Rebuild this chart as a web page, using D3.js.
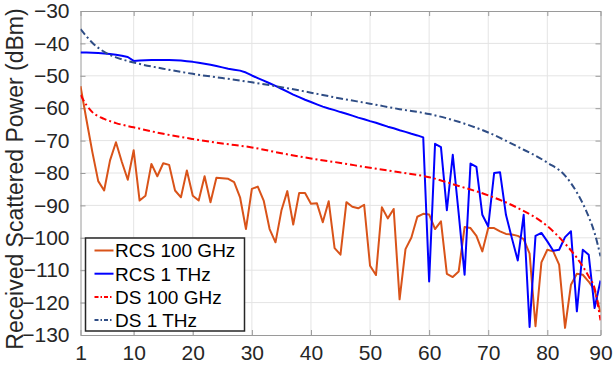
<!DOCTYPE html>
<html>
<head>
<meta charset="utf-8">
<script src="https://cdn.jsdelivr.net/npm/d3@7"></script>
<style>
  body { margin: 0; background: #fff; }
  svg { display: block; font-family: "Liberation Sans", Arial, Helvetica, sans-serif; }
</style>
</head>
<body>
<svg id="chart" width="613" height="366"></svg>
<script>
// angle index 1..89 (axis right edge labelled 90)
const angles = d3.range(1, 90);

const rcs100 = [-53.2, -63.5, -73.5, -82.5, -85.4, -76.1, -70.5, -76.6, -82.1, -73,
  -88.5, -87, -77.2, -81, -77, -77.5, -85.4, -87.5, -79.2, -87,
  -88.5, -81, -89, -81.5, -81.6, -81.8, -82.8, -87.5, -97.3, -84.9,
  -84.2, -88.5, -97.3, -101.4, -91.6, -85.6, -95.9, -86.2, -86.2, -89.5,
  -89.3, -95.2, -88.7, -103.2, -105.2, -89, -90.4, -90.9, -89.8, -108.6,
  -111.5, -90.6, -94, -91.1, -119, -103.5, -99.9, -93.5, -92.6, -92.8,
  -97.3, -94.9, -111.1, -112.1, -110.4, -96.7, -97.0, -99.4, -104.2, -97,
  -97, -98, -98.8, -99.0, -99.4, -100.4, -104.9, -127.3, -107.6, -103.7,
  -104.2, -108.3, -127.8, -114.5, -111.1, -111.4, -113.5, -116.2, -123];

const rcs1T = [-42.8, -42.8, -42.9, -43.0, -43.1, -43.3, -43.5, -43.8, -44.2, -45.4,
  -45.3, -45.2, -45.1, -45.1, -45.1, -45.1, -45.2, -45.3, -45.5, -45.7,
  -46.0, -46.3, -46.6, -47.0, -47.4, -47.8, -48.1, -48.4, -49.0, -49.9,
  -50.7, -51.5, -52.3, -53.1, -54.0, -54.9, -55.8, -56.6, -57.4, -58.1,
  -58.8, -59.5, -60.1, -60.6, -61.2, -61.7, -62.3, -62.9, -63.4, -64.0,
  -64.5, -65.1, -65.7, -66.2, -66.8, -67.3, -67.9, -68.4, -69.0, -113.5,
  -71, -72, -91.5, -74.4, -92.5, -111.4, -77.1, -78.1, -92.9, -96.5,
  -80, -79.8, -92.9, -100.1, -107, -92.9, -127.5, -99.4, -98.5, -101.1,
  -104, -103.7, -99.8, -98, -122.7, -103.7, -105.2, -121.7, -113.2];

// smooth DS curves, read at selected angles
const dsAngles = [1, 2, 3, 5, 7, 10, 15, 20, 25, 30, 35, 40, 45, 50, 55, 60, 65, 70, 75, 80, 83, 85, 87, 88, 89];
const ds100 = [-55.9, -59.0, -61.2, -63.3, -64.6, -65.9, -67.9, -69.5, -70.9, -72.1,
  -73.9, -75.5, -76.9, -78.4, -79.8, -81.3, -84.0, -86.9, -90.8, -96.4,
  -101.8, -106.2, -111.9, -115.6, -125.5];
const ds1T = [-35.6, -37.8, -39.8, -42.6, -44.3, -45.9, -47.8, -49.4, -50.7, -52.0,
  -53.5, -55.2, -57.0, -58.6, -60.3, -61.8, -64.2, -67.5, -71.9, -76.8,
  -80.8, -86.0, -93.5, -98.5, -105.7];

const xTicks = [1, 10, 20, 30, 40, 50, 60, 70, 80, 89];
const xTickLabels = ["1", "10", "20", "30", "40", "50", "60", "70", "80", "90"];
const yTicks = [-30, -40, -50, -60, -70, -80, -90, -100, -110, -120, -130];

const series = [
  { name: "RCS 100 GHz", x: angles, y: rcs100, color: "#D95319", dash: null, curve: d3.curveLinear },
  { name: "RCS 1 THz", x: angles, y: rcs1T, color: "#0000FF", dash: null, curve: d3.curveLinear },
  { name: "DS 100 GHz", x: dsAngles, y: ds100, color: "#FF0000", dash: "7,3,2,3", curve: d3.curveMonotoneX },
  { name: "DS 1 THz", x: dsAngles, y: ds1T, color: "#2F4D85", dash: "7,3,2,3", curve: d3.curveMonotoneX }
];

const W = 613, H = 366;
const m = { top: 11, right: 12.5, bottom: 31, left: 80.5 };
const w = W - m.left - m.right, h = H - m.top - m.bottom;

const svg = d3.select("#chart");
const g = svg.append("g").attr("transform", `translate(${m.left},${m.top})`);

const x = d3.scaleLinear().domain([1, 89]).range([0, w]);
const y = d3.scaleLinear().domain([-130, -30]).range([h, 0]);

// grid
g.append("g").selectAll("line").data(xTicks.slice(1, -1)).join("line")
  .attr("x1", d => x(d)).attr("x2", d => x(d)).attr("y1", 0).attr("y2", h)
  .attr("stroke", "#e4e4e4").attr("stroke-width", 1);
g.append("g").selectAll("line").data(yTicks.slice(1, -1)).join("line")
  .attr("y1", d => y(d)).attr("y2", d => y(d)).attr("x1", 0).attr("x2", w)
  .attr("stroke", "#e4e4e4").attr("stroke-width", 1);

// axes (inward ticks on all sides, MATLAB style)
const axCol = "#9a9a9a", txtCol = "#262626";
const styleAxis = sel => {
  sel.select(".domain").attr("stroke", axCol);
  sel.selectAll(".tick line").attr("stroke", axCol);
  sel.selectAll("text").attr("fill", txtCol).style("font-size", "21px");
};
g.append("g").attr("transform", `translate(0,${h})`)
  .call(d3.axisBottom(x).tickValues(xTicks).tickFormat((d, i) => xTickLabels[i]).tickSizeInner(-5).tickSizeOuter(0).tickPadding(10))
  .call(styleAxis);
g.append("g")
  .call(d3.axisTop(x).tickValues(xTicks).tickFormat("").tickSizeInner(-5).tickSizeOuter(0))
  .call(styleAxis);
g.append("g")
  .call(d3.axisLeft(y).tickValues(yTicks).tickSizeInner(-5).tickSizeOuter(0).tickPadding(11))
  .call(styleAxis);
g.append("g").attr("transform", `translate(${w},0)`)
  .call(d3.axisRight(y).tickValues(yTicks).tickFormat("").tickSizeInner(-5).tickSizeOuter(0))
  .call(styleAxis);

svg.append("text")
  .attr("transform", `translate(23,${m.top + h / 2 + 6}) rotate(-90)`)
  .attr("text-anchor", "middle").attr("fill", txtCol).style("font-size", "23px")
  .text("Received Scattered Power (dBm)");

// lines
g.append("clipPath").attr("id", "clip").append("rect").attr("width", w).attr("height", h);
const plot = g.append("g").attr("clip-path", "url(#clip)");
series.forEach(s => {
  const line = d3.line().x((d, i) => x(s.x[i])).y(d => y(d)).curve(s.curve);
  plot.append("path").datum(s.y).attr("d", line)
    .attr("fill", "none").attr("stroke", s.color).attr("stroke-width", 2)
    .attr("stroke-linejoin", "round")
    .attr("stroke-dasharray", s.dash);
});

// legend
const lg = svg.append("g").attr("transform", "translate(85.5,238)");
lg.append("rect").attr("width", 159).attr("height", 93)
  .attr("fill", "#fff").attr("stroke", "#262626").attr("stroke-width", 1.5);
series.forEach((s, i) => {
  const cy = 12.5 + i * 23.2;
  lg.append("line").attr("x1", 9).attr("x2", 28).attr("y1", cy).attr("y2", cy)
    .attr("stroke", s.color).attr("stroke-width", 2).attr("stroke-dasharray", s.dash ? "4,2,1.5,2" : null);
  lg.append("text").attr("x", 29.5).attr("y", cy).attr("dy", "0.36em")
    .attr("fill", "#000").style("font-size", "19px").text(s.name);
});
</script>
</body>
</html>
